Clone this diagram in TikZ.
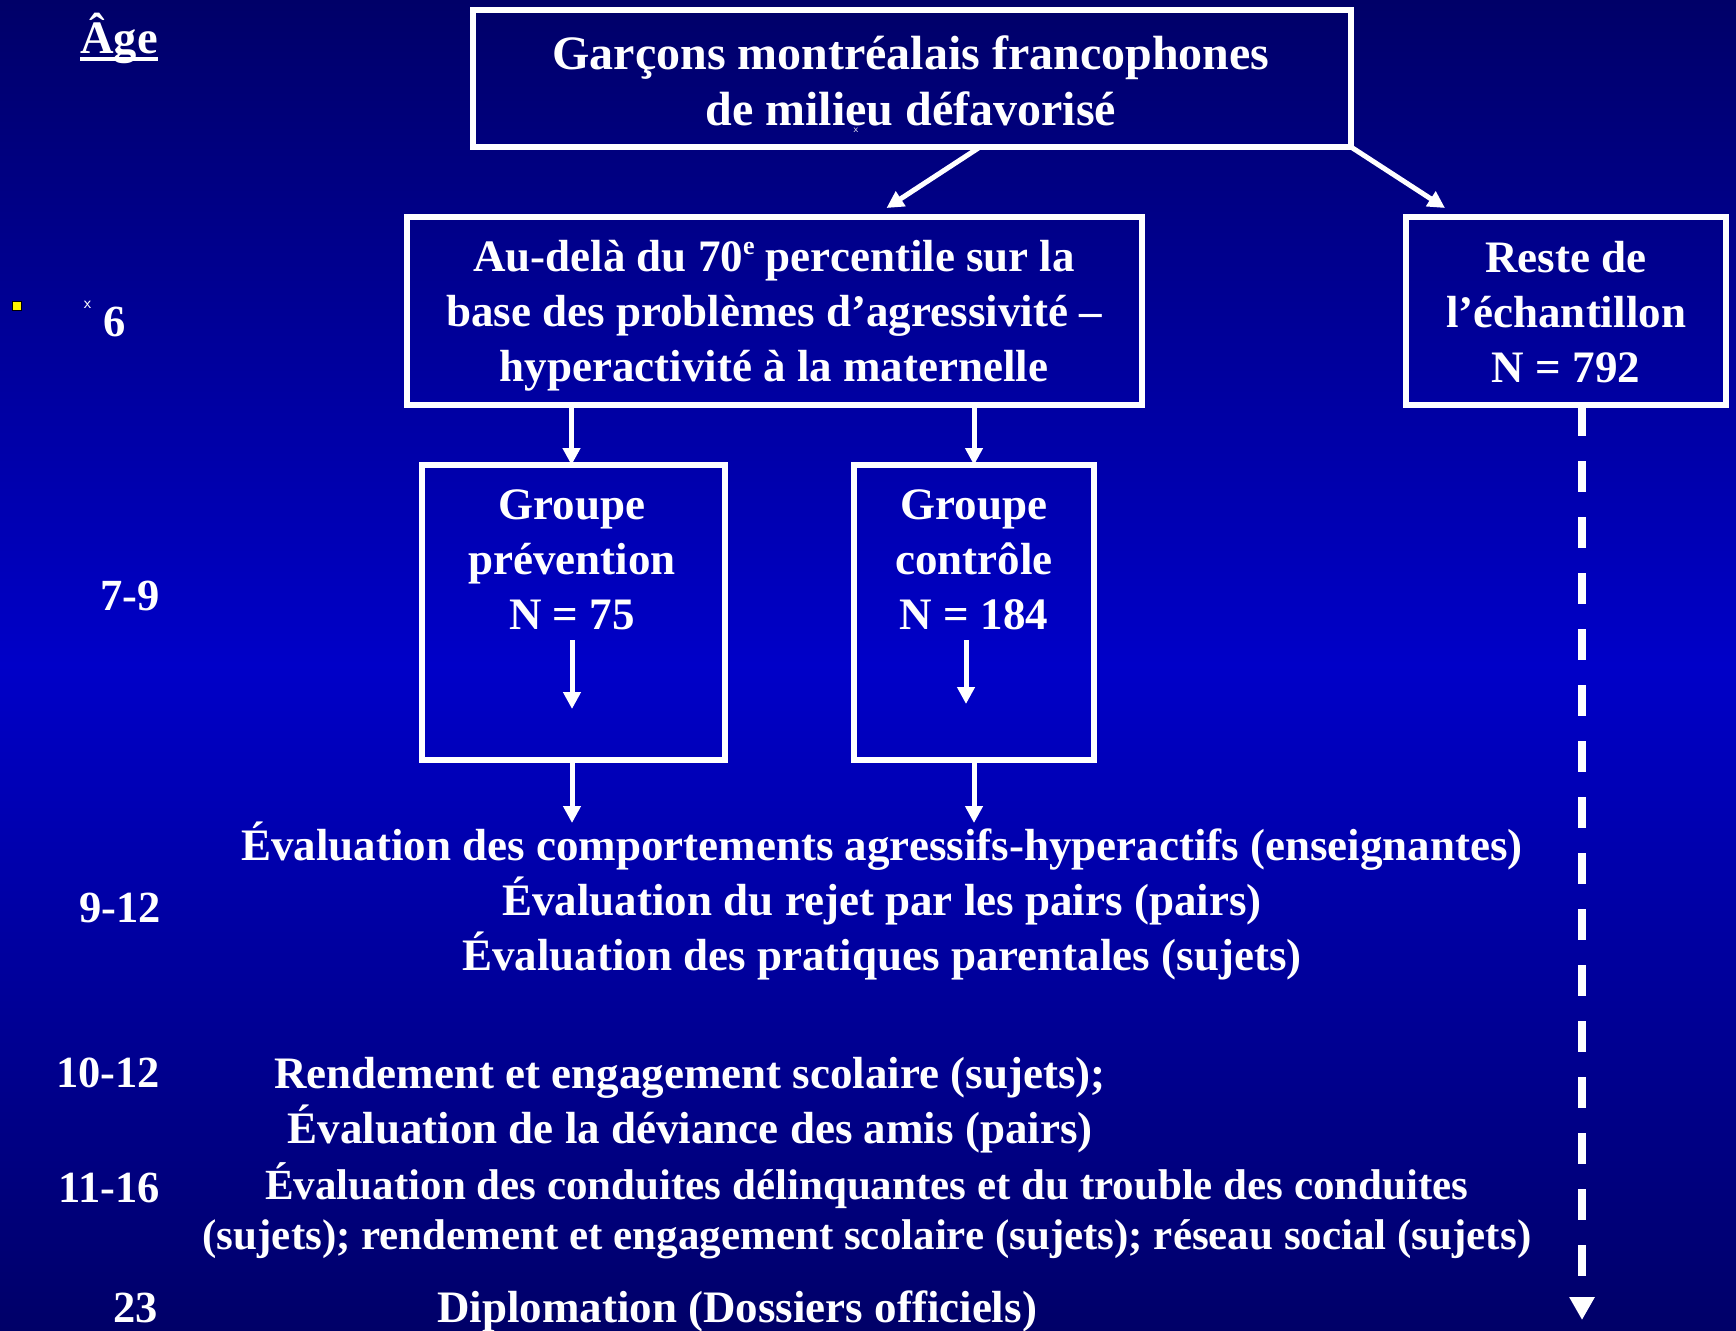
\documentclass[tikz,border=0pt]{standalone}
\usepackage{fontspec}
\setmainfont{Liberation Serif}
\usetikzlibrary{arrows.meta}
\definecolor{bgedge}{RGB}{0,0,104}
\definecolor{bgmid}{RGB}{0,0,200}
\newcommand{\ulage}[1]{\sbox0{#1}\rlap{\rule[-8pt]{\wd0}{4pt}}\usebox0}
\newcommand{\supe}{\raisebox{17pt}{\fontsize{26}{26}\selectfont e}}
\begin{document}
\begin{tikzpicture}[x=1pt,y=-1pt,
  txt/.style={text=white, font=\bfseries\fontsize{45}{55}\selectfont, inner sep=0pt, outer sep=0pt, align=center},
  agetxt/.style={txt, font=\bfseries\fontsize{44.5}{50}\selectfont},
  frame/.style={draw=white, line width=6pt, inner sep=0pt, outer sep=0pt},
  arr/.style={draw=white, line width=5pt, -{Triangle[length=17pt,width=17pt]}},
  dasharr/.style={draw=white, line width=8pt, dash pattern=on 31pt off 25pt, -{Triangle[length=23pt,width=24pt]}}
]
\useasboundingbox (0,0) rectangle (1736,1330);
\shade[top color=bgedge, bottom color=bgedge, middle color=bgmid] (0,0) rectangle (1736,1330);

% boxes
\node[frame, minimum width=878pt, minimum height=137pt] (title) at (912,78.5) {};
\node[frame, minimum width=735pt, minimum height=188pt] (sel) at (774.5,311) {};
\node[frame, minimum width=320pt, minimum height=188pt] (rest) at (1566,311) {};
\node[frame, minimum width=303pt, minimum height=295pt] (prev) at (573.5,612.5) {};
\node[frame, minimum width=240pt, minimum height=295pt] (ctrl) at (974,612.5) {};

% box texts (base anchor = baseline of the last line)
\node[txt, font=\bfseries\fontsize{48}{56}\selectfont, anchor=base] (titletxt) at (911,125) {Garçons montréalais francophones\\de milieu défavorisé};
\node[txt, anchor=base] (seltxt) at (774,381) {Au-delà du 70\supe{} percentile sur la\\base des problèmes d’agressivité –\\hyperactivité à la maternelle};
\node[txt, anchor=base] (resttxt) at (1566,382) {Reste de\\l’échantillon\\N = 792};
\node[txt, anchor=base] (prevtxt) at (572,629) {Groupe\\prévention\\N = 75};
\node[txt, anchor=base] (ctrltxt) at (974,629) {Groupe\\contrôle\\N = 184};

% stray marks
\node[text=white, font=\sffamily\fontsize{10}{10}\selectfont, inner sep=0pt] (xmark1) at (856,130) {x};
\node[text=white, font=\sffamily\fontsize{17}{17}\selectfont, inner sep=0pt] (xmark2) at (87.5,305) {x};
\node[draw=black, line width=1pt, fill=yellow, minimum size=9pt, inner sep=0pt] (bullet) at (16.5,306) {};

% ages
\node[txt, font=\bfseries\fontsize{46.5}{50}\selectfont, anchor=base] (agehead) at (119,53) {\ulage{Âge}};
\node[agetxt, anchor=base east] (a6) at (126,336) {6};
\node[agetxt, anchor=base east] (a79) at (160,610) {7-9};
\node[agetxt, anchor=base east] (a912) at (161,922) {9-12};
\node[agetxt, anchor=base east] (a1012) at (160,1087) {10-12};
\node[agetxt, anchor=base east] (a1116) at (160,1202) {11-16};
\node[agetxt, anchor=base east] (a23) at (158,1322) {23};

% evaluations
\node[txt, anchor=base] (eval1) at (882,970) {Évaluation des comportements agressifs-hyperactifs (enseignantes)\\Évaluation du rejet par les pairs (pairs)\\Évaluation des pratiques parentales (sujets)};
\node[txt, anchor=base] (eval2) at (690,1143) {Rendement et engagement scolaire (sujets);\\Évaluation de la déviance des amis (pairs)};
\node[txt, anchor=base, font=\bfseries\fontsize{43}{50}\selectfont] (eval3) at (867,1249) {Évaluation des conduites délinquantes et du trouble des conduites\\(sujets); rendement et engagement scolaire (sujets); réseau social (sujets)};
\node[txt, anchor=base] (eval4) at (737,1322) {Diplomation (Dossiers officiels)};

% connectors
\draw[arr] ([xshift=68pt]title.south) -- ([xshift=112pt,yshift=9pt]sel.north);
\draw[arr] (title.south east) -- ([xshift=39pt,yshift=9pt]rest.north west);
\draw[arr] ([xshift=-2pt]sel.south -| prev.north) -- ([xshift=-2pt]prev.north);
\draw[arr] (sel.south -| ctrl.north) -- (ctrl.north);
\draw[arr] ([xshift=-1.5pt,yshift=-27.5pt]prev.center) -- ([xshift=-1.5pt,yshift=-96.5pt]prev.center);
\draw[arr] ([xshift=-8pt,yshift=-27.5pt]ctrl.center) -- ([xshift=-8pt,yshift=-91.5pt]ctrl.center);
\draw[arr] ([xshift=-1.5pt]prev.south) -- ([xshift=-1.5pt,yshift=-63pt]prev.south);
\draw[arr] (ctrl.south) -- ([yshift=-63pt]ctrl.south);
\coordinate (restend) at (1582,1320);
\draw[dasharr] (rest.south -| restend) -- (restend);
\end{tikzpicture}
\end{document}
